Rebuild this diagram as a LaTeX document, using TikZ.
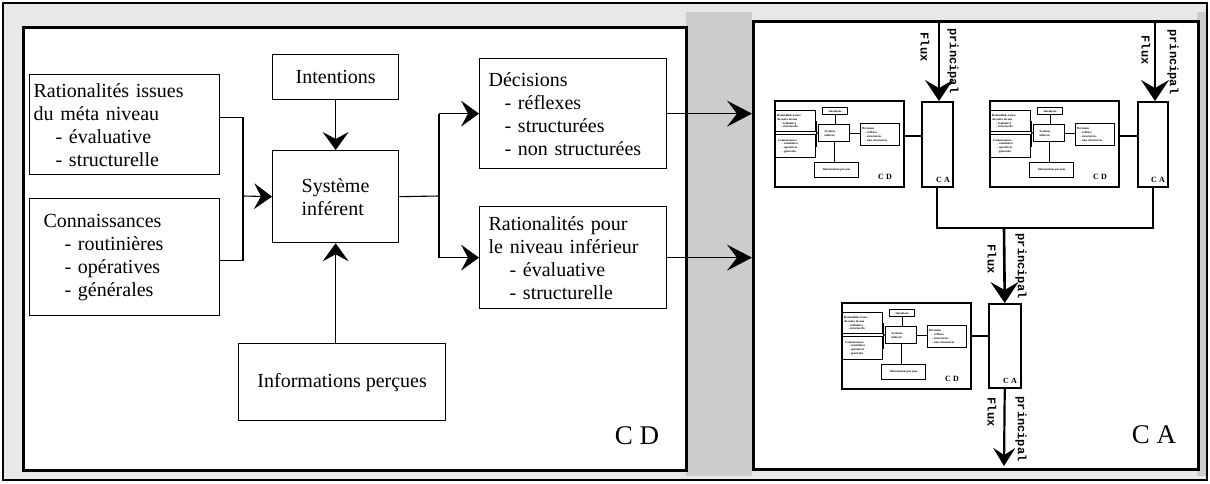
\documentclass[tikz,border=0pt]{standalone}
\usepackage{fontspec}
\setmainfont{Liberation Serif}
\newfontfamily\monofam{Liberation Mono}
\usetikzlibrary{arrows.meta,calc}
\definecolor{bgA}{gray}{0.91}
\definecolor{bgB}{gray}{0.80}
\newcommand\mainsize{\fontsize{20}{23}\selectfont}
\newcommand\minisize{\fontsize{3}{3.8}\selectfont\bfseries}
\tikzset{
  cdbox/.style={draw, line width=1.3pt, fill=white, inner ysep=0pt, font=\mainsize},
  panelbox/.style={draw, line width=2.6pt, fill=white, inner sep=0pt},
  lnk/.style={line width=1.1pt},
  arrmain/.style={lnk, -{Stealth[length=18pt,width=26pt,inset=7pt]}},
  arrbig/.style={line width=1.5pt, -{Stealth[length=25pt,width=26pt,inset=10pt]}},
  arrflux/.style={line width=2.6pt, -{Stealth[length=21pt,width=28pt,inset=8pt]}},
  arrfluxs/.style={line width=2.2pt, -{Stealth[length=18pt,width=22pt,inset=7pt]}},
  busline/.style={line width=2.4pt},
  biglabel/.style={font=\fontsize{27}{30}\selectfont},
  fluxlbl/.style={rotate=-90, font=\monofam\bfseries\fontsize{12}{13}\selectfont, inner sep=0pt},
  minipanel/.style={draw, line width=1.5pt, fill=white, inner sep=0pt},
  minibox/.style={draw, line width=1.2pt, fill=white, inner ysep=0.5pt, font=\minisize},
  minilink/.style={line width=1.2pt},
  minilabel/.style={font=\bfseries\fontsize{8}{9}\selectfont, inner sep=0pt},
  cabox/.style={draw, line width=1.5pt, fill=white, inner sep=0pt},
  minicd/.pic={
    \node[minipanel, anchor=north west, minimum width=129pt, minimum height=86pt] (-panel) at (0,0) {};
    \node[minibox, anchor=north west, minimum width=40pt, minimum height=21pt, text width=37pt, inner xsep=1.5pt, align=left] (-rat) at (1,10) {Rationalités issues\\du méta niveau\\\hspace*{4pt}- évaluative\\\hspace*{4pt}- structurelle};
    \node[minibox, anchor=north west, minimum width=40pt, minimum height=23pt, text width=35pt, inner xsep=2.5pt, align=left] (-conn) at (1,34) {Connaissances\\\hspace*{4pt}- routinières\\\hspace*{4pt}- opératives\\\hspace*{4pt}- générales};
    \node[minibox, anchor=north west, minimum width=25pt, minimum height=7pt, align=center, inner xsep=0pt] (-int) at (48,7) {Intentions};
    \node[minibox, anchor=north west, minimum width=31pt, minimum height=17pt, text width=19pt, inner xsep=6pt, align=left] (-sys) at (44,24) {Système\\inférent};
    \node[minibox, anchor=north west, minimum width=39pt, minimum height=22pt, text width=36pt, inner xsep=1.5pt, align=left] (-dec) at (86,23) {Décisions\\\hspace*{3pt}- réflexes\\\hspace*{3pt}- structurées\\\hspace*{3pt}- non structurées};
    \node[minibox, anchor=north west, minimum width=44pt, minimum height=15pt, align=center, inner xsep=0pt] (-inf) at (40,62) {Informations perçues};
    \coordinate (-bk) at (42.5,32.5);
    \draw[minilink] (-rat.east) -| (-bk) |- (-conn.east);
    \draw[minilink] (-bk) -- (-sys.west);
    \draw[minilink] (-int.south) -- (-int.south |- -sys.north);
    \draw[minilink] (-sys.east) -- (-sys.east -| -dec.west);
    \draw[minilink] (-sys.south) -- (-sys.south |- -inf.north);
    \node[minilabel] (-cdl) at (111,77) {C D};
  }
}
\begin{document}
\begin{tikzpicture}[x=1pt,y=-1pt]
\useasboundingbox (0,0) rectangle (1210,483);
% background
\draw[line width=1.4pt, fill=bgA] (3,3) rectangle (1207,480);
\fill[bgB] (686,12) rectangle (752,476);
\fill[bgB] (1197,12) rectangle (1206,476);

% ===== left panel CD =====
\node[panelbox, anchor=north west, minimum width=663pt, minimum height=443pt] (cdp) at (22,26) {};
\node[biglabel] (cdlabel) at (637,436) {C D};

\node[cdbox, anchor=north west, minimum width=190pt, minimum height=100pt, text width=182pt, inner xsep=4pt, align=left] (rat) at (29,74)
  {Rationalités issues\\du méta niveau\\\hspace*{22pt}- évaluative\\\hspace*{22pt}- structurelle};
\node[cdbox, anchor=north west, minimum width=190pt, minimum height=117pt, text width=162pt, inner xsep=14pt, align=left] (conn) at (29,198)
  {Connaissances\\\hspace*{21pt}- routinières\\\hspace*{21pt}- opératives\\\hspace*{21pt}- générales};
\node[cdbox, anchor=north west, minimum width=126pt, minimum height=45pt, align=center] (int) at (272,54) {Intentions};
\node[cdbox, anchor=north west, minimum width=126pt, minimum height=92pt, text width=68pt, inner xsep=29pt, align=left] (sys) at (272,150) {Système\\inférent};
\node[cdbox, anchor=north west, minimum width=207pt, minimum height=77pt, align=center] (inf) at (238,343) {Informations perçues};
\node[cdbox, anchor=north west, minimum width=187pt, minimum height=110pt, text width=169pt, inner xsep=9pt, align=left] (dec) at (479,58)
  {Décisions\\\hspace*{16pt}- réflexes\\\hspace*{16pt}- structurées\\\hspace*{16pt}- non structurées};
\node[cdbox, anchor=north west, minimum width=187pt, minimum height=102pt, text width=169pt, inner xsep=9pt, align=left] (rp) at (479,206)
  {Rationalités pour\\le niveau inférieur\\\hspace*{21pt}- évaluative\\\hspace*{21pt}- structurelle};

\coordinate (j1) at (243,196);
\draw[lnk] ([yshift=7pt]rat.east) -| (j1) |- ([yshift=-3.5pt]conn.east);
\draw[arrmain] (j1) -- (sys.west);
\draw[arrmain] (int.south) -- (int.south |- sys.north);
\draw[arrmain] (sys.south |- inf.north) -- (sys.south);
\coordinate (j2) at (439,196);
\draw[lnk] (sys.east) -- (j2);
\draw[lnk] (j2 |- dec.west) -- (j2 |- rp.west);
\draw[arrmain] (j2 |- dec.west) -- (dec.west);
\draw[arrmain] (j2 |- rp.west) -- (rp.west);

% ===== right panel CA =====
\node[panelbox, anchor=north west, minimum width=445pt, minimum height=448pt] (cap) at (752,20) {};
\node[biglabel] (calabel) at (1154,435) {C A};

\draw[arrbig] (dec.east) -- (dec.east -| cap.west);
\draw[arrbig] (rp.east) -- (rp.east -| cap.west);

\pic (m1) at (774,100) {minicd};
\pic (m2) at (989,100) {minicd};
\pic (m3) at (841,302) {minicd};

\node[cabox, anchor=north west, minimum width=31pt, minimum height=85pt] (ca1) at (921,101) {};
\node[cabox, anchor=north west, minimum width=30pt, minimum height=85pt] (ca2) at (1137,101) {};
\node[cabox, anchor=north west, minimum width=32pt, minimum height=84pt] (ca3) at (988,303) {};
\node[minilabel] (ca1l) at (943,180) {C A};
\node[minilabel] (ca2l) at (1158,180) {C A};
\node[minilabel] (ca3l) at (1010,381) {C A};

\draw[minilink, line width=1.8pt] ([yshift=8pt]m1-panel.east) -- ([yshift=8pt]m1-panel.east -| ca1.west);
\draw[minilink, line width=1.8pt] ([yshift=8pt]m2-panel.east) -- ([yshift=8pt]m2-panel.east -| ca2.west);
\draw[minilink, line width=1.8pt] ([yshift=10pt]m3-panel.east) -- ([yshift=10pt]m3-panel.east -| ca3.west);

% flux arrows
\coordinate (f1) at (939,22);
\coordinate (f2) at (1155,22);
\draw[arrflux] (f1) -- (f1 |- ca1.north);
\draw[arrflux] (f2) -- (f2 |- ca2.north);
\coordinate (bus) at (1004,228);
\draw[busline] (ca1.south) |- (bus) -| (ca2.south);
\draw[arrflux] (bus) -- (ca3.north);
\coordinate (f4) at (1004,466);
\draw[arrfluxs] (ca3.south) -- (f4);

\node[fluxlbl] (fl1) at (925,47) {Flux};
\node[fluxlbl] (pr1) at (953,61) {principal};
\node[fluxlbl] (fl2) at (1146,50) {Flux};
\node[fluxlbl] (pr2) at (1173,62) {principal};
\node[fluxlbl] (fl3) at (992,259) {Flux};
\node[fluxlbl] (pr3) at (1021,266) {principal};
\node[fluxlbl] (fl4) at (992,412) {Flux};
\node[fluxlbl] (pr4) at (1021,429) {principal};
\end{tikzpicture}
\end{document}
